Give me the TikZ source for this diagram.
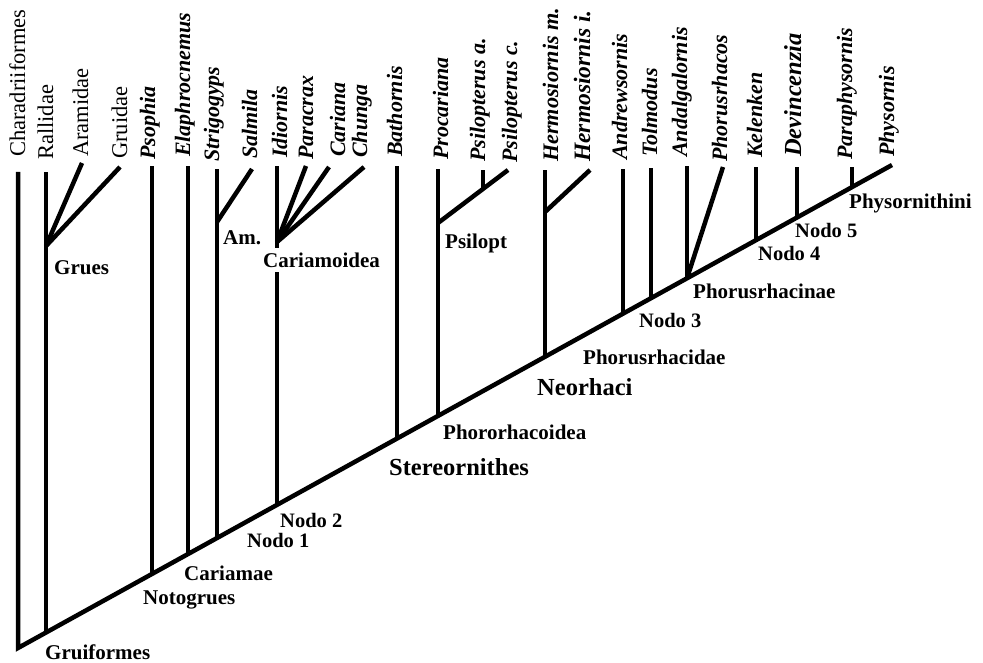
\documentclass[tikz,border=0pt]{standalone}
\usepackage{fontspec}
\setmainfont{Liberation Serif}
\begin{document}
\begin{tikzpicture}[x=1pt,y=-1pt,
  br/.style={line width=4.5pt, draw=black},
  taxi/.style={rotate=90, anchor=base west, inner sep=0pt, font=\fontsize{22}{24}\selectfont\bfseries\itshape},
  taxr/.style={rotate=90, anchor=base west, inner sep=0pt, font=\fontsize{22.5}{24}\selectfont},
  clade/.style={anchor=west, inner sep=0pt, font=\fontsize{21}{24}\selectfont\bfseries},
  nodo/.style={clade, font=\fontsize{20.5}{24}\selectfont\bfseries},
  bigclade/.style={clade, font=\fontsize{24.5}{28}\selectfont\bfseries}]
\useasboundingbox (0,0) rectangle (983,663);

% coordinates
\coordinate (root) at (18,648);
\coordinate (t-char) at (18,172);
\coordinate (t-phys) at (892,165);
\coordinate (j-rall) at (46,632.5);  \coordinate (t-rall) at (46,172);
\coordinate (grues) at (46,246);     \coordinate (t-aram) at (82,163);  \coordinate (t-grui) at (120,167);
\coordinate (j-psop) at (152,574);   \coordinate (t-psop) at (152,166);
\coordinate (j-elap) at (188,554.1); \coordinate (t-elap) at (188,166);
\coordinate (j-stri) at (217,538);   \coordinate (t-stri) at (217,169);
\coordinate (am) at (217,222);       \coordinate (t-salm) at (252,169);
\coordinate (j-idio) at (277,504.9); \coordinate (t-idio) at (277,166);
\coordinate (cari) at (277,242);     \coordinate (t-para) at (306,166);
\coordinate (t-cria) at (329,167);   \coordinate (t-chun) at (364,167);
\coordinate (j-bath) at (397,438.6); \coordinate (t-bath) at (397,166);
\coordinate (j-proc) at (438,415.9); \coordinate (t-proc) at (438,169);
\coordinate (psil) at (438,223);     \coordinate (t-psic) at (508,170);
\coordinate (j-psia) at (483,189);   \coordinate (t-psia) at (483,170);
\coordinate (j-herm) at (545,356.8); \coordinate (t-herm) at (545,170);
\coordinate (hermi) at (545,212);    \coordinate (t-hrmi) at (590,170);
\coordinate (j-andr) at (623,313.7); \coordinate (t-andr) at (623,169);
\coordinate (j-tolm) at (651,298.2); \coordinate (t-tolm) at (651,168);
\coordinate (j-anda) at (687,278.3); \coordinate (t-anda) at (687,166);
\coordinate (t-phor) at (723,167);
\coordinate (j-kele) at (756,240.2); \coordinate (t-kele) at (756,167);
\coordinate (j-devi) at (797,217.5); \coordinate (t-devi) at (797,167);
\coordinate (j-parp) at (852,187.1); \coordinate (t-parp) at (852,167);

% branches
\draw[br] (t-char) -- (root) -- (t-phys);
\draw[br] (j-rall) -- (t-rall);
\draw[br] (grues) -- (t-aram);
\draw[br] (grues) -- (t-grui);
\draw[br] (j-psop) -- (t-psop);
\draw[br] (j-elap) -- (t-elap);
\draw[br] (j-stri) -- (t-stri);
\draw[br] (am) -- (t-salm);
\draw[br] (j-idio) -- (t-idio);
\draw[br] (cari) -- (t-para);
\draw[br] (cari) -- (t-cria);
\draw[br] (cari) -- (t-chun);
\draw[br] (j-bath) -- (t-bath);
\draw[br] (j-proc) -- (t-proc);
\draw[br] (psil) -- (t-psic);
\draw[br] (j-psia) -- (t-psia);
\draw[br] (j-herm) -- (t-herm);
\draw[br] (hermi) -- (t-hrmi);
\draw[br] (j-andr) -- (t-andr);
\draw[br] (j-tolm) -- (t-tolm);
\draw[br] (j-anda) -- (t-anda);
\draw[br] (j-anda) -- (t-phor);
\draw[br] (j-kele) -- (t-kele);
\draw[br] (j-devi) -- (t-devi);
\draw[br] (j-parp) -- (t-parp);

% taxon labels
\node[taxr] (l-char) at (25,157) {Charadriiformes};
\node[taxr] (l-rall) at (53,160) {Rallidae};
\node[taxr] (l-aram) at (88,157) {Aramidae};
\node[taxr] (l-grui) at (127,159) {Gruidae};
\node[taxi] (l-psop) at (155,160) {Psophia};
\node[taxi] (l-elap) at (190,157) {Elaphrocnemus};
\node[taxi] (l-stri) at (219,162) {Strigogyps};
\node[taxi] (l-salm) at (257,159) {Salmila};
\node[taxi] (l-idio) at (287,158) {Idiornis};
\node[taxi] (l-para) at (313,160) {Paracrax};
\node[taxi] (l-cria) at (345,157) {Cariana};
\node[taxi] (l-chun) at (367,158) {Chunga};
\node[taxi] (l-bath) at (402,157) {Bathornis};
\node[taxi] (l-proc) at (448,160) {Procariana};
\node[taxi] (l-psia) at (485,162) {Psilopterus a.};
\node[taxi] (l-psic) at (517,163) {Psilopterus c.};
\node[taxi, font=\fontsize{22.2}{24}\selectfont\bfseries\itshape] (l-herm) at (558,162) {Hermosiornis m.};
\node[taxi, font=\fontsize{23.5}{26}\selectfont\bfseries\itshape] (l-hrmi) at (590,162) {Hermosiornis i.};
\node[taxi] (l-andr) at (627,160) {Andrewsornis};
\node[taxi] (l-tolm) at (657,157) {Tolmodus};
\node[taxi] (l-anda) at (687,157) {Andalgalornis};
\node[taxi] (l-phor) at (727,162) {Phorusrhacos};
\node[taxi] (l-kele) at (762,158) {Kelenken};
\node[taxi, font=\fontsize{24.5}{26}\selectfont\bfseries\itshape] (l-devi) at (801,157) {Devincenzia};
\node[taxi] (l-parp) at (852,160) {Paraphysornis};
\node[taxi] (l-phys) at (894,157) {Physornis};

% clade labels
\node[clade] (c-grui) at (45,652) {Gruiformes};
\node[clade] (c-noto) at (143,600) {Notogrues};
\node[clade] (c-cari) at (184,573) {Cariamae};
\node[nodo] (c-n1) at (247,540) {Nodo 1};
\node[nodo] (c-n2) at (280,520) {Nodo 2};
\node[bigclade] (c-ster) at (389,467) {Stereornithes};
\node[clade] (c-phoro) at (443,432) {Phororhacoidea};
\node[bigclade] (c-neor) at (537,387) {Neorhaci};
\node[clade] (c-phid) at (583,357) {Phorusrhacidae};
\node[nodo] (c-n3) at (639,320) {Nodo 3};
\node[clade] (c-phin) at (693,291) {Phorusrhacinae};
\node[nodo] (c-n4) at (758,253) {Nodo 4};
\node[nodo] (c-n5) at (795,230) {Nodo 5};
\node[clade] (c-phys) at (849,203) {Physornithini};
\node[clade] (c-grues) at (54,268) {Grues};
\node[clade] (c-am) at (223,238) {Am.};
\node[clade, fill=white, inner ysep=5pt] (c-cmo) at (263,260) {Cariamoidea};
\node[clade] (c-psil) at (445,243) {Psilopt};
\end{tikzpicture}
\end{document}
